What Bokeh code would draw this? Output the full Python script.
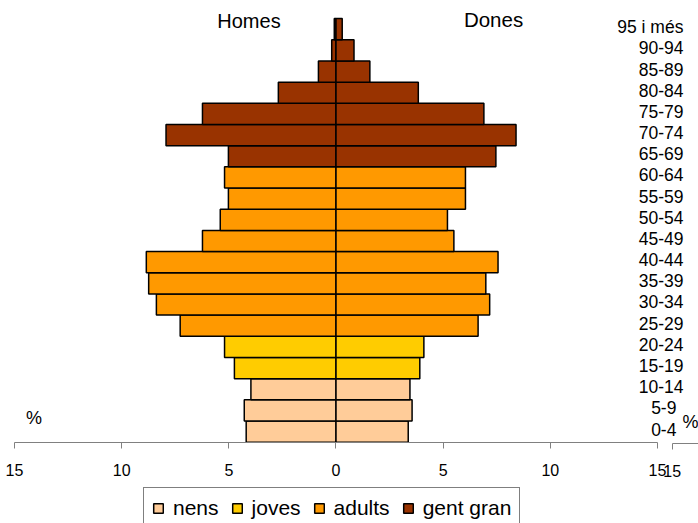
import numpy as np
from bokeh.plotting import figure
from bokeh.models import (ColumnDataSource, Range1d, LinearAxis, FixedTicker, Legend,
                          LegendItem, Label, CDSView, GroupFilter)
from bokeh.embed import file_html
from bokeh.resources import INLINE
from bokeh.core.properties import value

# ---- data ----
ages = ["0-4", "5-9", "10-14", "15-19", "20-24", "25-29", "30-34", "35-39", "40-44",
        "45-49", "50-54", "55-59", "60-64", "65-69", "70-74", "75-79", "80-84",
        "85-89", "90-94", "95 i més"]
homes = [4.19, 4.28, 3.97, 4.74, 5.20, 7.27, 8.38, 8.74, 8.85, 6.23, 5.40, 5.02,
         5.20, 5.02, 7.93, 6.23, 2.69, 0.82, 0.20, 0.08]
dones = [3.37, 3.55, 3.45, 3.91, 4.10, 6.63, 7.17, 6.99, 7.56, 5.50, 5.20, 6.04,
         6.04, 7.46, 8.40, 6.90, 3.84, 1.58, 0.84, 0.29]
grups = ["nens"] * 3 + ["joves"] * 2 + ["adults"] * 8 + ["gent gran"] * 7
grup_names = ["nens", "joves", "adults", "gent gran"]
grup_colors = ["#FFCC99", "#FFCC00", "#FF9900", "#993300"]
x_ticks = [-15, -10, -5, 0, 5, 10, 15]
x_tick_labels = ["15", "10", "5", "0", "5", "10", "15"]

FONT = "Liberation Sans"
TXT = "#000000"

pos = np.arange(len(ages)) + 0.5
src = ColumnDataSource(dict(
    y=pos,
    homes_left=-np.array(homes),
    dones=dones,
    grup=grups,
))

p = figure(width=698, height=523,
           x_range=Range1d(-15.653, 16.913), y_range=Range1d(-3.839, 20.855),
           output_backend="svg", toolbar_location=None, min_border=0,
           x_axis_type=None, y_axis_type=None)
p.outline_line_color = None
p.background_fill_color = "white"

items = []
for g, c in zip(grup_names, grup_colors):
    view = CDSView(filter=GroupFilter(column_name="grup", group=g))
    r1 = p.hbar(y="y", left="homes_left", right=0, height=1, source=src, view=view,
                fill_color=c, line_color="black", line_width=1.5)
    p.hbar(y="y", left=0, right="dones", height=1, source=src, view=view,
           fill_color=c, line_color="black", line_width=1.5)
    items.append(LegendItem(label=g, renderers=[r1]))

# main axis
ax = LinearAxis(ticker=FixedTicker(ticks=x_ticks),
                major_label_overrides=dict(zip(x_ticks, x_tick_labels)),
                bounds=(-15, 15), fixed_location=0,
                axis_line_color="#808080", major_tick_line_color="#808080",
                major_tick_in=0, major_tick_out=6, minor_tick_line_color=None,
                major_label_text_font=FONT, major_label_text_font_size="16px",
                major_label_text_color=TXT, major_label_standoff=16)
p.add_layout(ax, "below")

# secondary axis stub at right
p.extra_x_ranges = {"x2": Range1d(-16.34, 16.227)}
ax2 = LinearAxis(x_range_name="x2", ticker=FixedTicker(ticks=[15]),
                 bounds=(15, 16.3), fixed_location=-0.06,
                 axis_line_color="#808080", major_tick_line_color="#808080",
                 major_tick_in=0, major_tick_out=6, minor_tick_line_color=None,
                 major_label_text_font=FONT, major_label_text_font_size="16px",
                 major_label_text_color=TXT, major_label_standoff=16)
p.add_layout(ax2, "below")

# category labels at right
label_shift = [-7, -7] + [0] * (len(ages) - 2)
lab_src = ColumnDataSource(dict(y=pos + 0.12, text=ages, xo=label_shift))
p.text(x=16.21, y="y", text="text", x_offset="xo", source=lab_src,
       text_align="right", text_baseline="middle",
       text_font=value(FONT), text_font_size="17.5px", text_color=TXT)

p.add_layout(Label(x=-4.06, y=19.91, text="Homes", text_align="center",
                   text_baseline="middle", text_font=FONT, text_font_size="20px",
                   text_color=TXT))
p.add_layout(Label(x=7.35, y=19.95, text="Dones", text_align="center",
                   text_baseline="middle", text_font=FONT, text_font_size="20.5px",
                   text_color=TXT))
p.add_layout(Label(x=-14.09, y=1.12, text="%", text_align="center",
                   text_baseline="middle", text_font=FONT, text_font_size="18px",
                   text_color=TXT))
p.add_layout(Label(x=16.54, y=0.94, text="%", text_align="center",
                   text_baseline="middle", text_font=FONT, text_font_size="18px",
                   text_color=TXT))

legend = Legend(items=items, orientation="horizontal", location=(143, -6),
                label_text_font=FONT, label_text_font_size="21px",
                label_text_color=TXT,
                glyph_width=12, glyph_height=12, label_standoff=9, spacing=12,
                padding=8, border_line_color="black", border_line_width=1,
                background_fill_alpha=1, margin=0)
p.add_layout(legend, "center")

open("out.html", "w").write(file_html(p, INLINE))
